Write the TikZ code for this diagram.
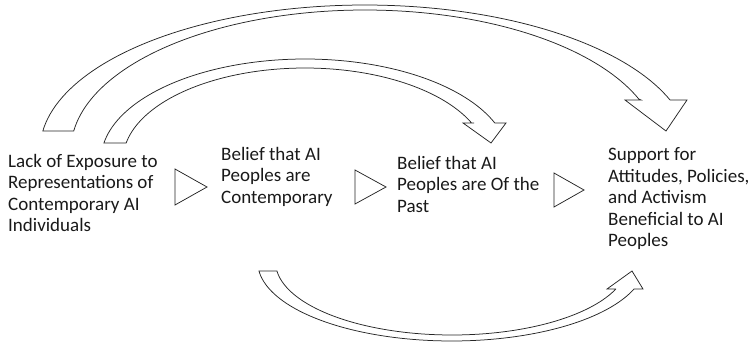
\documentclass[tikz,border=0pt]{standalone}
\usepackage{fontspec}
\setmainfont{Carlito}
\begin{document}
\begin{tikzpicture}[x=1pt,y=-1pt,
  blockarrow/.style={draw=black!85, line width=0.75pt, fill=white, line join=miter},
  tri/.style={draw=black!85, line width=0.75pt, fill=white},
  label/.style={anchor=north west, inner sep=0pt, align=left, text=black!90, font=\fontsize{19}{21.5}\selectfont}]
\useasboundingbox (0,0) rectangle (755,345);

% big arrow: Lack of Exposure -> Support
\draw[blockarrow]
  plot[domain=187.5:339.8, samples=90, variable=\t] ({365+325*cos(\t)}, {150+145*sin(\t)})
  -- (687,100) -- (666,131) -- (625,100) -- (641,100)
  -- plot[domain=338.7:187.8, samples=90, variable=\t] ({365+294*cos(\t)}, {150+140*sin(\t)})
  -- cycle;

% second arrow: Contemporary -> Past
\draw[blockarrow]
  plot[domain=189.7:338.5, samples=80, variable=\t] ({305+204*cos(\t)}, {160+101*sin(\t)})
  -- (506,123) -- (491,143) -- (463,123) -- (474,123)
  -- plot[domain=336.3:190.7, samples=80, variable=\t] ({305+182*cos(\t)}, {160+92*sin(\t)})
  -- cycle;

% bottom arrow: Contemporary -> Support
\draw[blockarrow]
  plot[domain=173.5:20, samples=80, variable=\t] ({451.7+194*cos(\t)}, {262+79*sin(\t)})
  -- (643,289) -- (632,271) -- (607,289) -- (616,289)
  -- plot[domain=21.7:172.9, samples=80, variable=\t] ({452+176.4*cos(\t)}, {262+73*sin(\t)})
  -- cycle;

\node[label] (lack) at (8,153.7) {Lack of Exposure to\\Representations of\\Contemporary AI\\Individuals};
\node[label] (cont) at (221,146.7) {Belief that AI\\Peoples are\\Contemporary};
\node[label] (past) at (397,155.7) {Belief that AI\\Peoples are Of the\\Past};
\node[label] (supp) at (608,147.7) {Support for\\Attitudes, Policies,\\and Activism\\Beneficial to AI\\Peoples};

\draw[tri] (175,169) -- (175,205) -- (207,187) -- cycle;
\draw[tri] (355,170) -- (355,204) -- (386,187) -- cycle;
\draw[tri] (554,173) -- (554,207) -- (584,190) -- cycle;
\end{tikzpicture}
\end{document}
